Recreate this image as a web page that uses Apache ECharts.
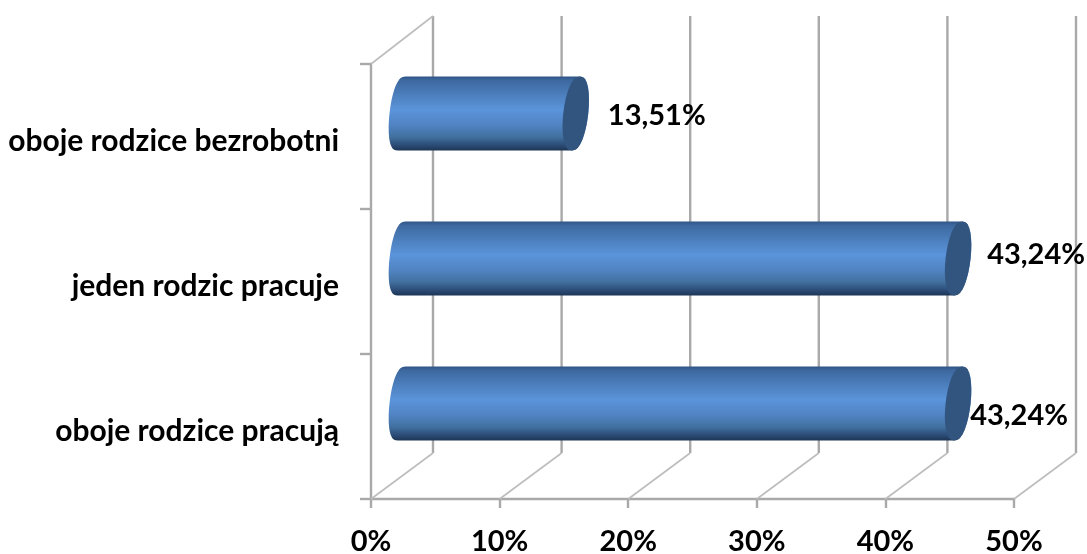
<!DOCTYPE html>
<html><head><meta charset="utf-8">
<style>html,body{margin:0;padding:0;background:#fff}#c{width:1087px;height:554px}</style>
<script src="https://cdn.jsdelivr.net/npm/echarts@6/dist/echarts.min.js"></script>
</head><body><div id="c"></div>
<script>
const categories = ['oboje rodzice pracują', 'jeden rodzic pracuje', 'oboje rodzice bezrobotni'];
const values = [43.24, 43.24, 13.51];
const valueLabels = ['43,24%', '43,24%', '13,51%'];
const xTicks = [0, 10, 20, 30, 40, 50];

const DEPTH = [62, -46];
const BAR_DEPTH = [31, -23];
const labelNudge = [[61, 12], [78, -4], [81, 2]];
const GRID = '#a9a9a9', FONT = 'Lato, sans-serif';

function edge(cx, cy, rx, ry, shear, from, to, p) {
  const pts = [];
  for (let i = 0; i <= 32; i++) {
    const t = from + (to - from) * i / 32;
    const c = Math.cos(t), s = Math.sin(t);
    pts.push([cx + rx * Math.sign(c) * Math.pow(Math.abs(c), p) - shear * s, cy + ry * s]);
  }
  return pts;
}
const bodyFill = {type:'linear',x:0,y:0,x2:0,y2:1,colorStops:[
  {offset:0,color:'#2f5485'},{offset:0.05,color:'#3d689f'},{offset:0.25,color:'#4c7fbd'},{offset:0.45,color:'#5b94da'},
  {offset:0.65,color:'#5184c4'},{offset:0.82,color:'#41709f'},{offset:0.93,color:'#2b4b75'},{offset:1,color:'#1d3554'}]};

function renderWall(params, api) {
  const r = params.coordSys, t = api.value(0);
  const x = api.coord([t, 0])[0], yb = r.y + r.height, yt = r.y;
  const ls = {stroke: GRID, lineWidth: 2.4, fill: 'none'};
  const ds = {stroke: '#bdbdbd', lineWidth: 1.6, fill: 'none'};
  const kids = [
    {type:'line', shape:{x1:x+DEPTH[0], y1:yt+DEPTH[1]-2, x2:x+DEPTH[0], y2:yb+DEPTH[1]}, style:ls},
    {type:'line', shape:{x1:x, y1:yb, x2:x+DEPTH[0], y2:yb+DEPTH[1]}, style:ds}
  ];
  if (t === 0) kids.push({type:'line', shape:{x1:x, y1:yt, x2:x+DEPTH[0], y2:yt+DEPTH[1]-2}, style:ds});
  return {type:'group', children:kids};
}
function renderBar(params, api) {
  const i = api.value(1);
  const p0 = api.coord([0, i]), p1 = api.coord([api.value(0), i]);
  const band = api.size([0, 1])[1];
  const ry = band * 0.255, rx = 12.5, sh = 4;
  const y = p0[1] + BAR_DEPTH[1];
  const x0 = p0[0] + BAR_DEPTH[0], x1 = p1[0] + BAR_DEPTH[0];
  const hp = Math.PI / 2;
  const outline = edge(x0, y, rx, ry, sh, -hp, -3 * hp, 0.72).concat(edge(x1, y, rx, ry, sh, hp, -hp, 0.8));
  const n = labelNudge[i];
  return {type:'group', children:[
    {type:'polygon', shape:{points:outline}, style:{fill:bodyFill}},
    {type:'polygon', shape:{points:edge(x1, y, rx, ry, sh, 0, 2 * Math.PI, 0.85)}, style:{fill:'#31557f'}},
    {type:'text', x:x1 + n[0], y:y + n[1], style:{text:valueLabels[i], fill:'#000', font:'700 29px ' + FONT, align:'center', verticalAlign:'middle'}}
  ]};
}
const chart = echarts.init(document.getElementById('c'), null, {renderer:'canvas'});
chart.setOption({
  animation:false, backgroundColor:'#fff',
  grid:{left:371, right:73, top:64, bottom:55, containLabel:false, outerBoundsMode:'none'},
  xAxis:{type:'value', min:0, max:50, interval:10, splitLine:{show:false},
    axisLine:{show:true, lineStyle:{color:GRID, width:2.4}},
    axisTick:{show:true, length:9, lineStyle:{color:GRID, width:2.4}},
    axisLabel:{formatter:'{value}%', color:'#000', fontFamily:'Lato', fontWeight:700, fontSize:29, margin:28, showMinLabel:true, showMaxLabel:true}},
  yAxis:{type:'category', data:categories, splitLine:{show:false},
    axisLine:{show:true, lineStyle:{color:GRID, width:2.4}},
    axisTick:{show:true, length:11, lineStyle:{color:GRID, width:2.4}},
    axisLabel:{color:'#000', fontFamily:'Lato', fontWeight:700, fontSize:30, margin:32, align:'right', verticalAlign:'top', lineHeight:9}},
  series:[
    {type:'custom', renderItem:renderWall, silent:true, z:1, clip:false, encode:{x:0,y:1}, data:xTicks.map(t=>[t,0])},
    {type:'custom', renderItem:renderBar, z:3, clip:false, encode:{x:0,y:1}, data:values.map((v,i)=>[v,i])}
  ]
});
</script></body></html>
